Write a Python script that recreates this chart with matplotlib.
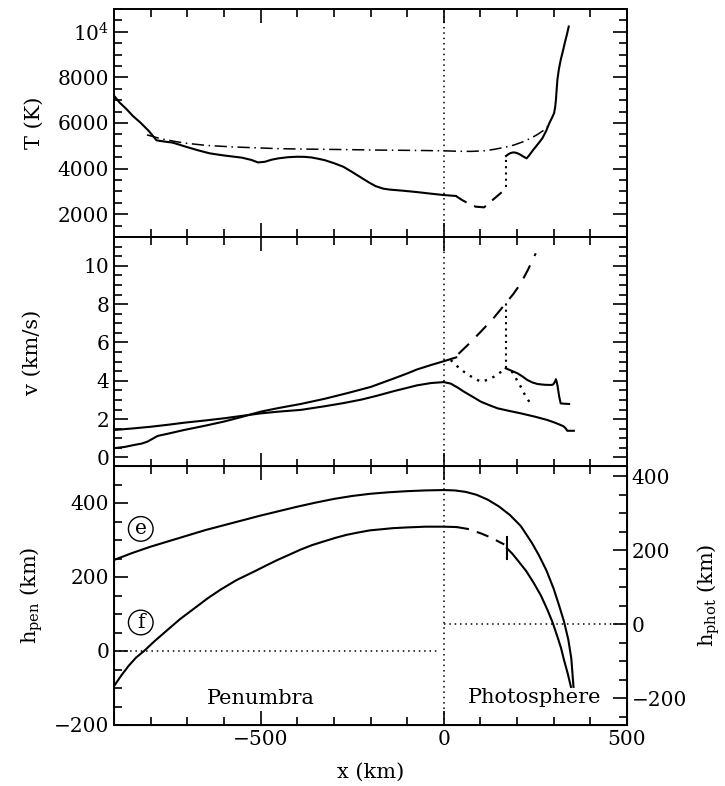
import numpy as np
import matplotlib.pyplot as plt
from matplotlib.ticker import MultipleLocator, FixedLocator, FixedFormatter

plt.rcParams['font.family'] = 'DejaVu Serif'
plt.rcParams['mathtext.fontset'] = 'dejavuserif'

# --- Temperatur (oberes Panel) ---
T_pen_x = [-900, -885, -866, -848, -828, -805, -784, -760, -740, -720, -702, -670, -639,
           -602, -551, -525, -507, -488, -470, -451, -425, -400, -380, -362, -345, -325,
           -300, -274, -250, -224, -205, -186, -165, -148, -111, -73, -35, 0, 33]
T_pen = [7200, 6900, 6610, 6300, 6020, 5650, 5240, 5180, 5140, 5040, 4950, 4800, 4670,
         4580, 4480, 4380, 4270, 4300, 4390, 4450, 4500, 4520, 4515, 4490, 4440, 4370,
         4240, 4080, 3850, 3590, 3400, 3230, 3120, 3080, 3030, 2970, 2900, 2840, 2800]
T_dash_x = [33, 50, 70, 87, 110, 133, 155, 174]
T_dash = [2800, 2620, 2450, 2330, 2300, 2620, 2920, 3210]
T_jump_x = [170, 170]
T_jump = [3210, 4600]
T_phot_x = [170, 176, 182, 189, 196, 203, 210, 218, 226, 231, 237, 244, 251, 260, 269,
            279, 288, 295, 301, 304, 306, 308, 310, 314, 319, 325, 330, 336, 341]
T_phot = [4550, 4630, 4680, 4710, 4700, 4660, 4600, 4520, 4450, 4540, 4670, 4820, 4960,
          5140, 5330, 5640, 5990, 6220, 6430, 6700, 7010, 7450, 7890, 8350, 8760, 9150,
          9500, 9880, 10230]
T_ref_x = [-810, -770, -730, -702, -650, -576, -500, -451, -400, -325, -250, -199, -130,
           -63, 0, 40, 75, 110, 138, 165, 192, 215, 237, 256, 274, 290]
T_ref = [5480, 5300, 5180, 5110, 5020, 4950, 4905, 4875, 4860, 4845, 4830, 4816, 4805,
         4795, 4780, 4760, 4755, 4780, 4845, 4930, 5036, 5170, 5328, 5500, 5694, 5950]

# --- Geschwindigkeit (mittleres Panel) ---
vA_x = [-900, -850, -800, -750, -709, -650, -600, -550, -499, -450, -390, -325, -275,
        -224, -180, -136, -100, -73, -35, 0, 19, 40, 55, 80, 101, 125, 147, 180, 210,
        250, 283, 305, 319, 327, 333, 337, 355]
vA = [1.43, 1.51, 1.60, 1.71, 1.81, 1.93, 2.04, 2.17, 2.30, 2.39, 2.48, 2.67, 2.83,
      3.02, 3.23, 3.46, 3.63, 3.76, 3.88, 3.93, 3.85, 3.62, 3.43, 3.15, 2.91, 2.72, 2.56,
      2.42, 2.30, 2.12, 1.95, 1.80, 1.69, 1.62, 1.51, 1.39, 1.39]
vB_x = [-900, -870, -845, -825, -809, -795, -781, -750, -709, -650, -600, -550, -520,
        -499, -450, -390, -325, -262, -199, -136, -100, -73, -35, 0, 34]
vB = [0.48, 0.55, 0.65, 0.72, 0.82, 0.97, 1.12, 1.25, 1.43, 1.66, 1.87, 2.12, 2.28,
      2.39, 2.58, 2.79, 3.06, 3.36, 3.68, 4.12, 4.38, 4.59, 4.82, 5.02, 5.22]
v_dash_x = [40, 70, 101, 135, 169, 190, 210, 230, 251]
v_dash = [5.40, 5.95, 6.56, 7.25, 8.04, 8.53, 9.08, 9.80, 10.65]
v_dot1_x = [19, 37, 55, 78, 101, 120, 137, 153, 169]
v_dot1 = [5.08, 4.75, 4.47, 4.18, 3.95, 4.05, 4.21, 4.42, 4.65]
v_jump_x = [169, 169]
v_jump = [4.65, 8.04]
v_phot_x = [169, 185, 201, 215, 228, 242, 256, 275, 292, 298, 301, 304, 306, 308, 310,
            315, 319, 330, 342]
v_phot = [4.65, 4.52, 4.39, 4.22, 4.04, 3.91, 3.83, 3.79, 3.78, 3.80, 3.87, 3.98, 4.08,
          3.95, 3.78, 3.17, 2.82, 2.80, 2.79]
v_dot2_x = [185, 192, 201, 210, 217, 224, 231, 237, 246]
v_dot2 = [4.50, 4.30, 3.98, 3.69, 3.42, 3.17, 2.97, 2.82, 2.74]

# --- Hoehe (unteres Panel) ---
e_x = [-900, -850, -800, -750, -700, -650, -600, -550, -500, -450, -400, -350, -300,
       -250, -200, -150, -100, -50, 0, 30, 60, 90, 120, 150, 180, 210, 240, 260, 280,
       300, 315, 328, 340, 348, 354]
e_h = [246, 265, 282, 297, 312, 327, 340, 353, 366, 378, 390, 401, 411, 419, 425, 429,
       432, 434, 435, 434, 430, 422, 409, 391, 368, 338, 293, 258, 218, 168, 122, 80,
       30, -20, -97]
f_x = [-900, -880, -860, -840, -818, -790, -754, -720, -681, -645, -609, -565, -517,
       -485, -454, -420, -391, -360, -328, -295, -265, -235, -202, -170, -139, -100,
       -50, 0, 35]
f_h = [-95, -66, -40, -18, 0, 26, 57, 86, 115, 142, 166, 192, 215, 231, 246, 261, 274,
       286, 296, 306, 314, 320, 326, 329, 332, 334, 336, 336, 335]
f_dash_x = [35, 65, 101, 130, 151, 165]
f_dash = [335, 330, 318, 306, 295, 288]
f_phot_x = [172, 187, 201, 225, 246, 265, 283, 297, 310, 320, 328, 338, 347]
f_phot = [278, 263, 246, 216, 183, 150, 111, 77, 39, 8, -24, -60, -97]
f_bar_x = [172, 172]
f_bar = [250, 309]
h_offset = 72  # h_phot = h_pen - h_offset

fig = plt.figure(figsize=(7.25, 7.86), dpi=100)
L, W = 114 / 725, 513 / 725
ax1 = fig.add_axes([L, 1 - 237 / 786, W, 228 / 786])
ax2 = fig.add_axes([L, 1 - 467 / 786, W, 230 / 786])
ax3 = fig.add_axes([L, 1 - 725 / 786, W, 259 / 786])

lw = 1.5
fs = 14.5
fl = 15

def style(ax, right=True):
    ax.set_xlim(-900, 500)
    ax.xaxis.set_major_locator(MultipleLocator(500))
    ax.xaxis.set_minor_locator(MultipleLocator(100))
    ax.tick_params(which='both', direction='in', top=True, right=right, width=1.2,
                   labelsize=fs)
    ax.tick_params(which='major', length=10)
    ax.tick_params(which='minor', length=5.5)
    for s in ax.spines.values():
        s.set_linewidth(1.4)
    ax.axvline(0, color='k', ls=(0, (1, 2.5)), lw=1.1)

# oberes Panel
ax1.plot(T_pen_x, T_pen, 'k-', lw=lw)
ax1.plot(T_dash_x, T_dash, 'k--', lw=lw, dashes=(6, 4))
ax1.plot(T_jump_x, T_jump, 'k', ls=(0, (1, 2)), lw=lw)
ax1.plot(T_phot_x, T_phot, 'k-', lw=lw)
ax1.plot(T_ref_x, T_ref, 'k', lw=1.1, dashes=(8, 3, 1, 3))
style(ax1)
ax1.set_ylim(1000, 11000)
ax1.yaxis.set_major_locator(FixedLocator([2000, 4000, 6000, 8000, 10000]))
ax1.yaxis.set_major_formatter(FixedFormatter(['2000', '4000', '6000', '8000', r'10$^4$']))
ax1.yaxis.set_minor_locator(MultipleLocator(500))
ax1.set_xticklabels([])
ax1.set_ylabel('T (K)', fontsize=fl, labelpad=10)

# mittleres Panel
ax2.plot(vA_x, vA, 'k-', lw=lw)
ax2.plot(vB_x, vB, 'k-', lw=lw)
ax2.plot(v_dash_x, v_dash, 'k--', lw=lw, dashes=(7, 5))
ax2.plot(v_dot1_x, v_dot1, 'k', ls=(0, (1, 2.5)), lw=1.7)
ax2.plot(v_jump_x, v_jump, 'k', ls=(0, (1, 2)), lw=lw)
ax2.plot(v_phot_x, v_phot, 'k-', lw=lw)
ax2.plot(v_dot2_x, v_dot2, 'k', ls=(0, (1, 2.5)), lw=1.7)
style(ax2)
ax2.set_ylim(-0.5, 11.5)
ax2.yaxis.set_major_locator(MultipleLocator(2))
ax2.yaxis.set_minor_locator(MultipleLocator(0.5))
ax2.set_xticklabels([])
ax2.set_ylabel('v (km/s)', fontsize=fl, labelpad=30)

# unteres Panel
ax3.plot(e_x, e_h, 'k-', lw=lw)
ax3.plot(f_x, f_h, 'k-', lw=lw)
ax3.plot(f_dash_x, f_dash, 'k--', lw=lw, dashes=(6, 4))
ax3.plot(f_phot_x, f_phot, 'k-', lw=lw)
ax3.plot(f_bar_x, f_bar, 'k-', lw=lw)
style(ax3, right=False)
ax3.set_ylim(-200, 500)
ax3.yaxis.set_major_locator(MultipleLocator(200))
ax3.yaxis.set_minor_locator(MultipleLocator(50))
ax3.plot([-900, -10], [0, 0], 'k', ls=(0, (1, 2.5)), lw=1.1)
ax3.plot([0, 500], [h_offset, h_offset], 'k', ls=(0, (1, 2.5)), lw=1.1)
ax3.set_xlabel('x (km)', fontsize=fl, labelpad=10)
ax3.set_ylabel(r'h$_{\rm pen}$ (km)', fontsize=fl, labelpad=6)
ax3.text(-500, -128, 'Penumbra', ha='center', va='center', fontsize=fs + 0.5)
ax3.text(248, -126, 'Photosphere', ha='center', va='center', fontsize=fs + 0.5)
circ = dict(boxstyle='circle,pad=0.14', fc='white', ec='k', lw=1.0)
ax3.text(-827, 330, 'e', ha='center', va='center', fontsize=fs, bbox=circ)
ax3.text(-827, 77, 'f', ha='center', va='center', fontsize=fs, bbox=circ)

ax3r = ax3.twinx()
ax3r.set_ylim(-200 - h_offset, 500 - h_offset)
ax3r.yaxis.set_major_locator(MultipleLocator(200))
ax3r.yaxis.set_minor_locator(MultipleLocator(50))
ax3r.tick_params(which='both', direction='in', width=1.2, labelsize=fs)
ax3r.tick_params(which='major', length=10)
ax3r.tick_params(which='minor', length=5.5)
ax3r.set_ylabel(r'h$_{\rm phot}$ (km)', fontsize=fl, labelpad=6)

fig.savefig('out.png', dpi=100)
